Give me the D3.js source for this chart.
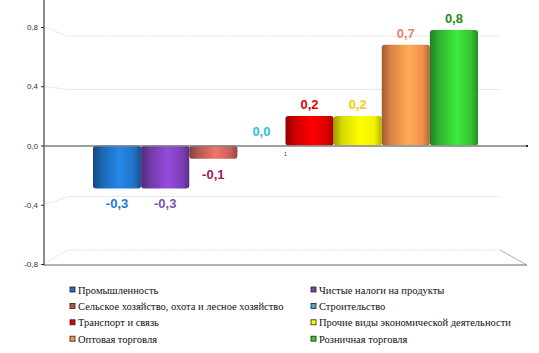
<!DOCTYPE html>
<html>
<head>
<meta charset="utf-8">
<script src="https://cdn.jsdelivr.net/npm/d3@7"></script>
<style>
  body { margin: 0; background: #fff; }
  svg { display: block; }
</style>
</head>
<body>
<div id="chart"></div>
<script>
// data
const categories = ["1"];
const seriesNames = [
  "Промышленность",
  "Чистые налоги на продукты",
  "Сельское хозяйство, охота и лесное хозяйство",
  "Строительство",
  "Транспорт и связь",
  "Прочие виды экономической деятельности",
  "Оптовая торговля",
  "Розничная торговля"
];
const seriesValues = [-0.29, -0.29, -0.09, 0.0, 0.2, 0.2, 0.68, 0.78];
const yTicks = [-0.8, -0.4, 0.0, 0.4, 0.8];

const barColors = ["#1f72c4", "#7d3fb8", "#c8615a", "#4bb3cf", "#e00000", "#f2f200", "#f0904a", "#33c433"];
const labelColors = ["#1f78d0", "#8050b0", "#a0205a", "#30c0d8", "#e00000", "#f0d000", "#f08070", "#2a8a20"];
const legendColors = ["#1f72c4", "#7d3fb8", "#c0504d", "#4bacc6", "#e00000", "#ffff00", "#f79646", "#33cc33"];

const W = 539, H = 353;
const svg = d3.select("#chart").append("svg")
  .attr("width", W)
  .attr("height", H);

const axisX = 44, backL = 68, backR = 500, frontR = 527;

let y = d3.scaleLinear().domain([-0.8, 0.8]).range([264, 27]);
// back wall of the 3d box
let yBack = v => 11.6 + 0.903 * y(v);

let x0 = d3.scaleBand().domain(categories).range([axisX, frontR]);
let x1 = d3.scaleBand().domain(d3.range(seriesValues.length))
  .range([93, 478]);

// gradients for the cylinders
let defs = svg.append("defs");
barColors.forEach((c, i) => {
  let g = defs.append("linearGradient")
    .attr("id", "grad" + i)
    .attr("x1", "0%").attr("x2", "100%").attr("y1", "0%").attr("y2", "0%");
  let base = d3.color(c);
  g.append("stop").attr("offset", "0%").attr("stop-color", base.darker(1.2));
  g.append("stop").attr("offset", "18%").attr("stop-color", base.darker(0.3));
  g.append("stop").attr("offset", "55%").attr("stop-color", base.brighter(0.5));
  g.append("stop").attr("offset", "85%").attr("stop-color", base);
  g.append("stop").attr("offset", "100%").attr("stop-color", base.darker(0.9));
});

// gridlines (perspective)
svg.append("g")
  .selectAll("path")
  .data(yTicks.filter(d => d !== 0))
  .join("path")
  .attr("d", d => `M${axisX},${y(d)}L${backL},${yBack(d)}L${backR},${yBack(d)}`)
  .attr("fill", "none")
  .attr("stroke", "#dcdcdc")
  .attr("stroke-dasharray", "1.5 1");

// floor
svg.append("path")
  .attr("d", `M${backR},${yBack(-0.8)}L${frontR},${y(-0.8) + 1}`)
  .attr("stroke", "#b0b0b0")
  .attr("fill", "none");
svg.append("line")
  .attr("x1", axisX).attr("x2", frontR)
  .attr("y1", y(-0.8) + 1).attr("y2", y(-0.8) + 1)
  .attr("stroke", "#999")
  .attr("stroke-width", 1.3);

// bars
let bars = svg.append("g");
bars.selectAll("rect")
  .data(seriesValues)
  .join("rect")
  .attr("x", (d, i) => x1(i))
  .attr("width", x1.bandwidth())
  .attr("y", d => y(Math.max(0, d)))
  .attr("height", d => Math.abs(y(d) - y(0)))
  .attr("rx", 3)
  .attr("fill", (d, i) => `url(#grad${i})`);

// zero line
svg.append("line")
  .attr("x1", axisX).attr("x2", frontR)
  .attr("y1", y(0) + 0.5).attr("y2", y(0) + 0.5)
  .attr("stroke", "#808080")
  .attr("stroke-width", 1.4);
svg.append("rect")
  .attr("x", frontR - 1).attr("y", y(0) - 0.5)
  .attr("width", 2).attr("height", 2)
  .attr("fill", "#222");

// value labels
let fmt = v => d3.format(".1f")(v).replace(".", ",").replace("−", "-");
svg.append("g")
  .selectAll("text")
  .data(seriesValues)
  .join("text")
  .attr("x", (d, i) => x1(i) + x1.bandwidth() / 2)
  .attr("y", (d, i) => {
    if (d < 0) return y(d) + 20;
    if (d === 0) return y(0) - 10;
    return y(d) - 7;
  })
  .attr("text-anchor", "middle")
  .attr("font-family", "Liberation Sans, Arial, sans-serif")
  .attr("font-weight", "bold")
  .attr("font-size", 13)
  .attr("fill", (d, i) => labelColors[i])
  .text(d => fmt(d));

// y axis
svg.append("line")
  .attr("x1", axisX).attr("x2", axisX)
  .attr("y1", 0).attr("y2", y(-0.8) + 1.5)
  .attr("stroke", "#666")
  .attr("stroke-width", 1.5);

let yAxis = d3.axisLeft(y).tickValues(yTicks).tickSize(3).tickFormat(fmt);
svg.append("g")
  .attr("transform", `translate(${axisX},0)`)
  .call(yAxis)
  .call(g => g.select(".domain").remove())
  .call(g => g.selectAll(".tick line").attr("stroke", "#333"))
  .call(g => g.selectAll(".tick text")
    .attr("x", -6)
    .attr("font-family", "Liberation Sans, Arial, sans-serif")
    .attr("font-size", 8)
    .attr("fill", "#333"));

// category label
svg.append("g")
  .selectAll("text")
  .data(categories)
  .join("text")
  .attr("x", d => x0(d) + x0.bandwidth() / 2)
  .attr("y", y(0) + 10)
  .attr("text-anchor", "middle")
  .attr("font-family", "Liberation Sans, Arial, sans-serif")
  .attr("font-size", 5)
  .attr("fill", "#333")
  .text(d => d);

// legend
let legend = svg.append("g")
  .selectAll("g")
  .data(seriesNames)
  .join("g")
  .attr("transform", (d, i) => {
    let col = i % 2, row = Math.floor(i / 2);
    return `translate(${col ? 311 : 70},${290 + row * 16.4})`;
  });
legend.append("rect")
  .attr("x", 0).attr("y", -3)
  .attr("width", 5).attr("height", 5)
  .attr("fill", (d, i) => legendColors[i])
  .attr("stroke", "#222")
  .attr("stroke-width", 0.8);
legend.append("text")
  .attr("x", 8)
  .attr("y", 3.5)
  .attr("font-family", "Liberation Serif, Times New Roman, serif")
  .attr("font-size", 10.5)
  .attr("fill", "#111")
  .text(d => d);
</script>
</body>
</html>
